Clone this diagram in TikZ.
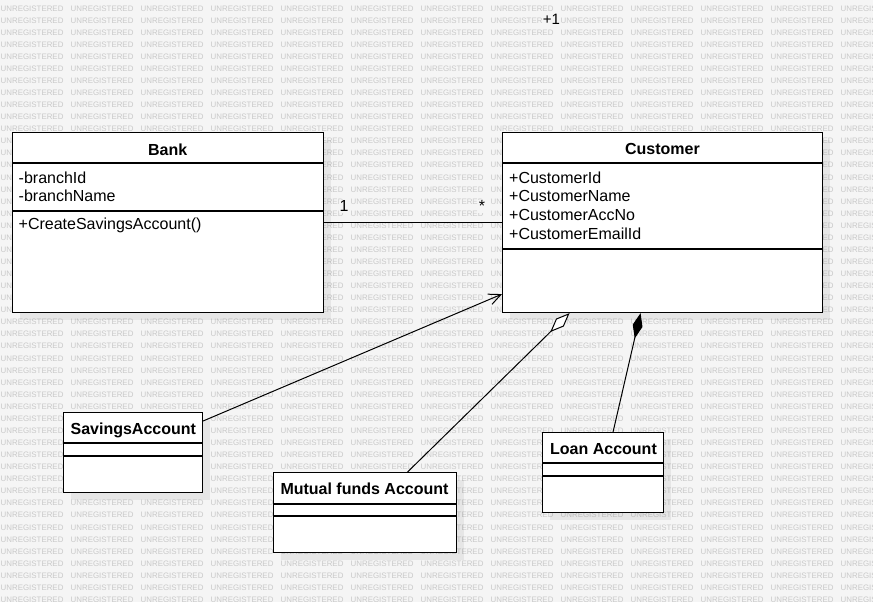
\documentclass[tikz,border=0pt]{standalone}
\usepackage{fontspec}
\setmainfont{Liberation Sans}
\usetikzlibrary{arrows.meta,shadows}

\begin{document}
\begin{tikzpicture}[x=1pt, y=-1pt,
    cbox/.style={draw, line width=1.1pt, fill=white, anchor=north west, inner sep=0pt,
      drop shadow={shadow xshift=7pt, shadow yshift=-7pt, fill=black, opacity=0.06}},
    ctitle/.style={anchor=base, inner sep=0pt, font=\fontsize{16}{19}\selectfont\bfseries},
    attr/.style={anchor=base west, inner sep=0pt, font=\fontsize{16}{19}\selectfont},
    mult/.style={anchor=base, inner sep=1pt, fill=black!4, font=\fontsize{16}{19}\selectfont},
    wmark/.style={anchor=west, inner sep=0pt, text=black!21, font=\fontsize{7.9}{8}\selectfont}]
    \useasboundingbox (0,0) rectangle (873,602);
    \clip (0,0) rectangle (873,602);
    \fill[black!4] (0,0) rectangle (873,602);

    % watermark
    \foreach \r in {0,...,49}
      \foreach \c in {0,...,12}
        \node[wmark] (wm-\r-\c) at (70*\c+0.5, 8.3+12.07*\r) {UNREGISTERED};

    % classes
    \node[cbox, minimum width=311pt, minimum height=180pt] (bank) at (12,132) {};
    \node[cbox, minimum width=320pt, minimum height=180pt] (cust) at (502,132) {};
    \node[cbox, minimum width=139pt, minimum height=80pt] (sav) at (63,412) {};
    \node[cbox, minimum width=183pt, minimum height=80pt] (mut) at (273,472) {};
    \node[cbox, minimum width=121pt, minimum height=80pt] (loan) at (542,432) {};

   \begin{scope}[line width=1.1pt]
    \draw ([yshift=-31pt]bank.north west) -- ([yshift=-31pt]bank.north east);
    \draw ([yshift=-79pt]bank.north west) -- ([yshift=-79pt]bank.north east);
    \draw ([yshift=-31pt]cust.north west) -- ([yshift=-31pt]cust.north east);
    \draw ([yshift=-117pt]cust.north west) -- ([yshift=-117pt]cust.north east);
    \draw ([yshift=-31pt]sav.north west) -- ([yshift=-31pt]sav.north east);
    \draw ([yshift=-44pt]sav.north west) -- ([yshift=-44pt]sav.north east);
    \draw ([yshift=-32pt]mut.north west) -- ([yshift=-32pt]mut.north east);
    \draw ([yshift=-44pt]mut.north west) -- ([yshift=-44pt]mut.north east);
    \draw ([yshift=-31pt]loan.north west) -- ([yshift=-31pt]loan.north east);
    \draw ([yshift=-44pt]loan.north west) -- ([yshift=-44pt]loan.north east);
   \end{scope}

    \node[ctitle] (bank-t) at (167.7,155) {Bank};
    \node[ctitle] (cust-t) at (662.5,154.3) {Customer};
    \node[ctitle] (sav-t) at (133.3,434) {SavingsAccount};
    \node[ctitle] (mut-t) at (364.5,494) {Mutual funds Account};
    \node[ctitle] (loan-t) at (603.5,454) {Loan Account};

    \node[attr] (bank-a1) at (18.5,183.3) {-branchId};
    \node[attr] (bank-a2) at (18.5,201.7) {-branchName};
    \node[attr] (bank-m1) at (18.5,229.5) {+CreateSavingsAccount()};
    \foreach \t [count=\i] in {CustomerId,CustomerName,CustomerAccNo,CustomerEmailId}
      \node[attr] (cust-a\i) at (509,164.7+18.6*\i) {+\t};

    \node[mult, font=\fontsize{15}{18}\selectfont] (plus-one) at (551.5,25) {+1};

    % relations
    \draw[line width=1pt] (bank.east) -- node[mult, pos=0.112, yshift=11pt] (m-one) {1}
      node[mult, pos=0.888, yshift=11pt] (m-many) {*} (cust.west);
   \begin{scope}[line width=1pt]
    \draw[-{Straight Barb[length=12pt,width=11pt]}] ([yshift=-9pt]sav.north east) -- ([yshift=19pt]cust.south west);
    \draw[-{Diamond[fill=white,length=27pt,width=11pt]}] ([xshift=42.5pt]mut.north) -- ([xshift=-93pt]cust.south);
    \draw[-{Diamond[length=26pt,width=10pt]}] ([xshift=10pt]loan.north) -- ([xshift=-22pt]cust.south);
   \end{scope}
\end{tikzpicture}
\end{document}
